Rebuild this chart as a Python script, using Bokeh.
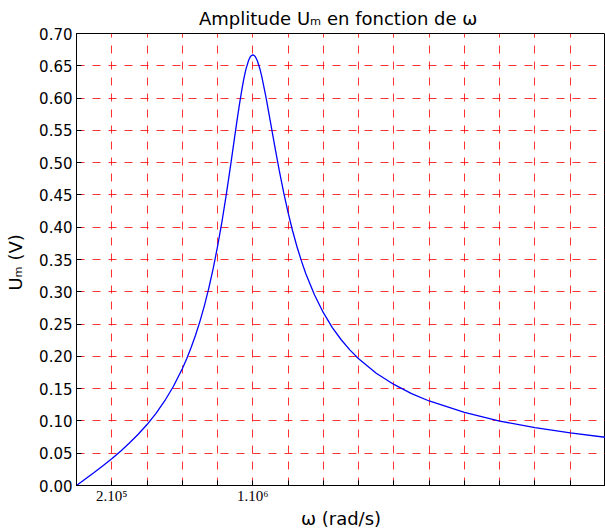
from bokeh.plotting import figure
from bokeh.models import FixedTicker, Range1d
from bokeh.embed import file_html
from bokeh.resources import INLINE

# omega values (rad/s) and amplitude readings (V)
omega = [0, 0.05e6, 0.1e6, 0.15e6, 0.2e6, 0.25e6, 0.3e6, 0.35e6, 0.4e6, 0.45e6,
         0.5e6, 0.55e6, 0.6e6, 0.625e6, 0.65e6, 0.675e6, 0.7e6, 0.725e6, 0.75e6,
         0.775e6, 0.8e6, 0.825e6, 0.85e6, 0.875e6, 0.9e6, 0.91e6, 0.925e6,
         0.94e6, 0.95e6, 0.96e6, 0.975e6, 0.985e6, 0.99e6, 1.0e6, 1.01e6,
         1.015e6, 1.025e6, 1.04e6, 1.05e6, 1.075e6, 1.1e6, 1.125e6, 1.15e6,
         1.175e6, 1.2e6, 1.225e6, 1.25e6, 1.275e6, 1.3e6, 1.35e6, 1.4e6,
         1.45e6, 1.5e6, 1.55e6, 1.6e6, 1.7e6, 1.8e6, 1.9e6, 2.0e6, 2.2e6,
         2.4e6, 2.6e6, 2.8e6, 3.0e6]
um = [0.0, 0.0100, 0.0202, 0.0307, 0.0416, 0.0532, 0.0657, 0.0793, 0.0944, 0.1114,
      0.1309, 0.1537, 0.1807, 0.1963, 0.2136, 0.2327, 0.2542, 0.2782, 0.3053,
      0.3358, 0.3702, 0.4088, 0.4515, 0.4977, 0.5456, 0.5646, 0.5918,
      0.6166, 0.6312, 0.6436, 0.6577, 0.6636, 0.6655, 0.6670, 0.6655,
      0.6637, 0.6582, 0.6453, 0.6343, 0.6008, 0.5629, 0.5243, 0.4875,
      0.4534, 0.4226, 0.3949, 0.3702, 0.3482, 0.3284, 0.2949, 0.2676,
      0.2450, 0.2261, 0.2101, 0.1963, 0.1739, 0.1565, 0.1424, 0.1309, 0.1131,
      0.0998, 0.0896, 0.0814, 0.0746]

x_ticks = [i * 200000 for i in range(16)]
x_tick_labels = {200000: "2.10⁵", 1000000: "1.10⁶"}
y_ticks = [round(i * 0.05, 2) for i in range(15)]

p = figure(width=605, height=531, output_backend="svg", toolbar_location=None,
           x_range=Range1d(0, 3e6), y_range=Range1d(0, 0.70),
           min_border_left=76, min_border_right=0, min_border_top=25,
           min_border_bottom=0,
           title="Amplitude Uₘ  en fonction de ω",
           x_axis_label="ω (rad/s)", y_axis_label="Uₘ  (V)")

p.line(omega, um, line_color="#0000ff", line_width=1.3)

p.title.align = "center"
p.title.text_font = "DejaVu Sans"
p.title.text_font_style = "normal"
p.title.text_font_size = "18px"
p.title.text_color = "black"

p.outline_line_color = "black"
p.outline_line_width = 1
p.outline_line_alpha = 1

xa = p.xaxis[0]
xa.ticker = FixedTicker(ticks=x_ticks)
xa.major_label_overrides = {t: x_tick_labels.get(t, "") for t in x_ticks}
xa.major_label_text_font = "Liberation Serif"
xa.major_label_text_font_size = "15px"
xa.major_label_standoff = 2

ya = p.yaxis[0]
ya.ticker = FixedTicker(ticks=y_ticks)
ya.major_label_overrides = {t: f"{t:.2f}" for t in y_ticks}
ya.major_label_text_font = "DejaVu Sans"
ya.major_label_text_font_size = "15px"
ya.major_label_standoff = 4

for ax in (xa, ya):
    ax.major_tick_in = 5
    ax.major_tick_out = 0
    ax.minor_tick_line_color = None
    ax.axis_line_color = "black"
    ax.major_tick_line_color = "black"
    ax.major_label_text_color = "black"
    ax.axis_label_text_font = "DejaVu Sans"
    ax.axis_label_text_font_style = "normal"
    ax.axis_label_text_font_size = "18px"
    ax.axis_label_text_color = "black"

xa.axis_label_standoff = 1
ya.axis_label_standoff = 10

for g in (p.xgrid[0], p.ygrid[0]):
    g.grid_line_color = "#ff0000"
    g.grid_line_alpha = 0.8
    g.grid_line_dash = "8 8"
    g.grid_line_width = 1
p.xgrid[0].ticker = FixedTicker(ticks=x_ticks)
p.ygrid[0].ticker = FixedTicker(ticks=y_ticks)

p.background_fill_color = "white"
p.border_fill_color = "white"

open("out.html", "w").write(file_html(p, INLINE))
